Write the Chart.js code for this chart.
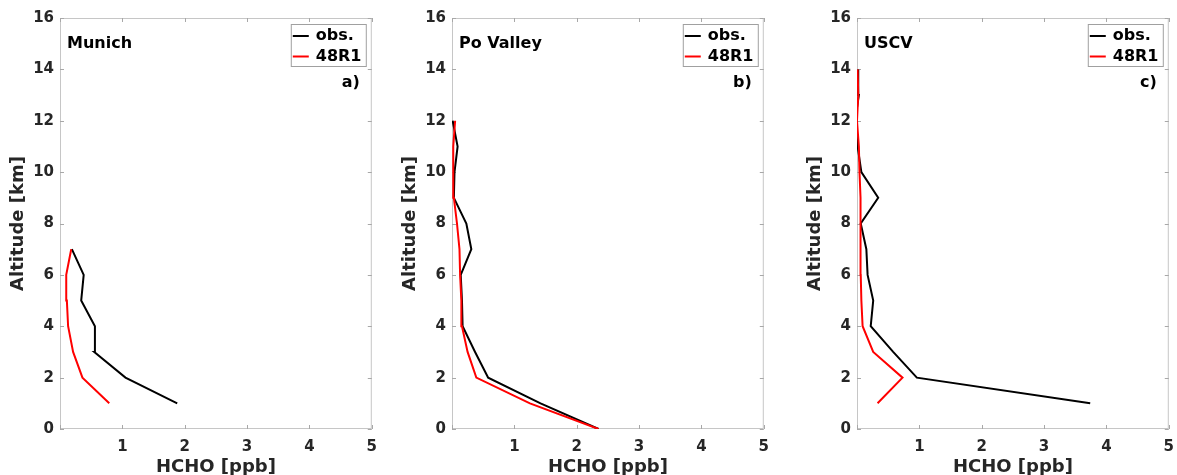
<!DOCTYPE html>
<html>
<head>
<meta charset="utf-8">
<script src="https://cdn.jsdelivr.net/npm/chart.js@4/dist/chart.umd.min.js"></script>
<style>
html,body{margin:0;padding:0;background:#fff;overflow:hidden;width:1177px;height:475px;}
canvas{position:absolute;top:0;}
</style>
</head>
<body>
<canvas id="ca" width="386" height="485" style="left:0px"></canvas>
<canvas id="cb" width="386" height="485" style="left:392px"></canvas>
<canvas id="cc" width="386" height="485" style="left:797px"></canvas>
<script>
// ── DATA (HCHO in ppb, altitude in km) ──
const xTicks = [0, 1, 2, 3, 4, 5];
const yTicks = [0, 2, 4, 6, 8, 10, 12, 14, 16];

const munichAlt = [1, 2, 3, 4, 5, 6, 7];
const munichObs = [1.88, 1.05, 0.55, 0.56, 0.34, 0.38, 0.19];
const munichMod = [0.79, 0.36, 0.21, 0.13, 0.11, 0.10, 0.18];

const poAlt = [0, 1, 2, 3, 4, 5, 6, 7, 8, 9, 10, 11, 12];
const poObs = [2.35, 1.42, 0.58, 0.37, 0.17, 0.16, 0.14, 0.31, 0.23, 0.03, 0.04, 0.09, 0.01];
const poMod = [2.35, 1.25, 0.39, 0.25, 0.16, 0.15, 0.13, 0.12, 0.08, 0.03, 0.02, 0.02, 0.05];

const uscvAlt = [1, 2, 3, 4, 5, 6, 7, 8, 9, 10, 11, 12, 13, 14];
const uscvObs = [3.74, 0.96, 0.58, 0.22, 0.26, 0.17, 0.15, 0.06, 0.34, 0.07, 0.01, -0.03, 0.03, 0.02];
const uscvMod = [0.33, 0.73, 0.26, 0.09, 0.07, 0.06, 0.06, 0.06, 0.05, 0.04, 0.03, 0.00, 0.02, 0.01];

const seriesNames = ['obs.', '48R1'];
const seriesColors = ['#000000', '#ff0000'];

const FONT = "'DejaVu Sans', 'Liberation Sans', sans-serif";
const AXIS_GREY = '#262626';

// ── FRAME, LABELS & LEGEND ──
const frame = {
  id: 'frame',
  beforeDatasetsDraw(chart){
    const {ctx, chartArea:a, scales:{x, y}} = chart;
    ctx.save();
    ctx.strokeStyle = '#c6c6c6';
    ctx.lineWidth = 1;
    ctx.strokeRect(a.left + 0.5, a.top + 0.5, a.right - a.left - 1, a.bottom - a.top - 1);
    ctx.strokeStyle = '#a8a8a8';
    ctx.beginPath();
    x.ticks.forEach(t => {
      const px = Math.round(x.getPixelForValue(t.value)) + 0.5;
      ctx.moveTo(px, a.bottom); ctx.lineTo(px, a.bottom - 4);
      ctx.moveTo(px, a.top); ctx.lineTo(px, a.top + 4);
    });
    y.ticks.forEach(t => {
      const py = Math.round(y.getPixelForValue(t.value)) + 0.5;
      ctx.moveTo(a.left, py); ctx.lineTo(a.left + 4, py);
      ctx.moveTo(a.right, py); ctx.lineTo(a.right - 4, py);
    });
    ctx.stroke();
    ctx.restore();
  },
  afterDatasetsDraw(chart, args, opts){
    const {ctx, chartArea:a} = chart;
    ctx.save();
    ctx.font = 'bold 16px ' + FONT;
    ctx.fillStyle = '#000';
    ctx.textBaseline = 'middle';
    ctx.textAlign = 'left';
    ctx.fillText(opts.site, a.left + 7, a.top + 26);
    ctx.textAlign = 'right';
    ctx.fillText(opts.tag, a.right - 12, a.top + 65);

    // legend box
    const bw = 75, bh = 42;
    const bx = a.right - 6 - bw, by = a.top + 6;
    ctx.fillStyle = '#fff';
    ctx.fillRect(bx, by, bw, bh);
    ctx.strokeStyle = '#a0a0a0';
    ctx.lineWidth = 1;
    ctx.strokeRect(bx + 0.5, by + 0.5, bw, bh);
    seriesNames.forEach((name, i) => {
      const cy = by + 12 + i * 20.5;
      ctx.strokeStyle = seriesColors[i];
      ctx.lineWidth = 2;
      ctx.beginPath();
      ctx.moveTo(bx + 2, cy); ctx.lineTo(bx + 18, cy);
      ctx.stroke();
      ctx.fillStyle = '#000';
      ctx.textAlign = 'left';
      ctx.fillText(name, bx + 25, cy);
    });
    ctx.restore();
  }
};

function pairs(alt, vals){
  return alt.map((h, i) => ({x: vals[i], y: h}));
}

function makePanel(id, site, tag, alt, obs, mod){
  new Chart(document.getElementById(id), {
    type: 'scatter',
    data: {
      datasets: [
        {label: seriesNames[0], data: pairs(alt, obs), showLine: true, borderColor: seriesColors[0],
         borderWidth: 2, pointRadius: 0, order: 1},
        {label: seriesNames[1], data: pairs(alt, mod), showLine: true, borderColor: seriesColors[1],
         borderWidth: 2, pointRadius: 0, order: 0}
      ]
    },
    options: {
      responsive: false,
      animation: false,
      layout: {padding: {top: 18, right: 6, left: 0, bottom: 0}},
      plugins: {
        legend: {display: false},
        tooltip: {enabled: false},
        frame: {site: site, tag: tag}
      },
      scales: {
        x: {
          type: 'linear', min: xTicks[0], max: xTicks[xTicks.length - 1],
          afterBuildTicks: s => { s.ticks = xTicks.map(v => ({value: v})); },
          afterFit: s => { s.height = 56; },
          grid: {display: false, drawTicks: false}, border: {display: false},
          ticks: {color: AXIS_GREY, font: {family: FONT, size: 15, weight: 'bold'}, padding: 9,
                  maxRotation: 0, callback: v => v === 0 ? '' : v},
          title: {display: true, text: 'HCHO [ppb]', color: AXIS_GREY,
                  font: {family: FONT, size: 18, weight: 'bold'}, padding: {top: 0, bottom: 7}}
        },
        y: {
          type: 'linear', min: yTicks[0], max: yTicks[yTicks.length - 1],
          afterBuildTicks: s => { s.ticks = yTicks.map(v => ({value: v})); },
          afterFit: s => { s.width = 60; },
          grid: {display: false, drawTicks: false}, border: {display: false},
          ticks: {color: AXIS_GREY, font: {family: FONT, size: 15, weight: 'bold'}, padding: 6},
          title: {display: true, text: 'Altitude [km]', color: AXIS_GREY,
                  font: {family: FONT, size: 18, weight: 'bold'}, padding: {top: 8, bottom: 0}}
        }
      }
    },
    plugins: [frame]
  });
}

makePanel('ca', 'Munich', 'a)', munichAlt, munichObs, munichMod);
makePanel('cb', 'Po Valley', 'b)', poAlt, poObs, poMod);
makePanel('cc', 'USCV', 'c)', uscvAlt, uscvObs, uscvMod);
</script>
</body>
</html>
